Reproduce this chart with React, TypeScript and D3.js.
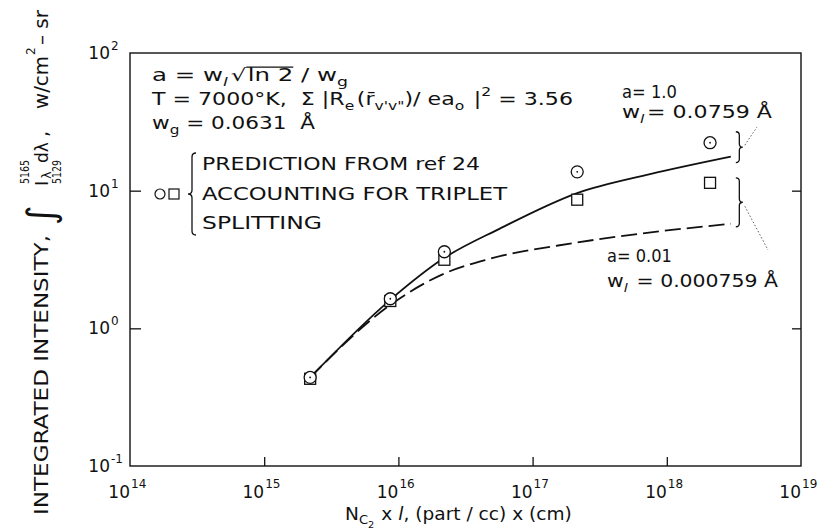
import * as d3 from 'd3'
import { useEffect, useRef } from 'react'

const W = 818
const H = 532

// decade exponents for the log axes
const xExps = [14, 15, 16, 17, 18, 19]
const yExps = [-1, 0, 1, 2]

// measured points (prediction from ref 24)
const nValues = [2.2e15, 8.7e15, 2.2e16, 2.15e17, 2.1e18]
const circleValues = [0.44, 1.64, 3.6, 13.7, 22.3]
const squareValues = [0.43, 1.58, 3.15, 8.6, 11.4]

// a = 1.0 curve (solid)
const solidN = [2.2e15, 8.7e15, 2.2e16, 5.7e16, 2.15e17, 7.5e17, 3.0e18]
const solidI = [0.44, 1.61, 3.25, 5.3, 9.6, 13.2, 17.7]
// a = 0.01 curve (dashed)
const dashN = [2.2e15, 8.7e15, 2.2e16, 4.8e16, 2.15e17, 3.0e18]
const dashI = [0.44, 1.48, 2.5, 3.2, 4.2, 5.75]

// brace extents (intensity)
const upperBrace = [16.0, 26.8]
const lowerBrace = [5.47, 12.4]

type Part = { t: string; size?: number; dy?: number; italic?: boolean; over?: boolean; gap?: number }

const FONT = 'DejaVu Sans'

// lays text runs side by side, then squeezes/stretches the group to a given width
function runs(parent: any, x: number, y: number, parts: Part[], base: number, width?: number) {
	const g = parent.append('g')
	let cx = 0
	parts.forEach((p) => {
		cx += p.gap ?? 0
		const size = p.size ?? base
		const dy = p.dy ?? 0
		const t = g
			.append('text')
			.attr('x', cx)
			.attr('y', dy)
			.attr('font-size', size)
			.attr('font-style', p.italic ? 'italic' : null)
			.style('white-space', 'pre')
			.text(p.t)
		const len = (t.node() as SVGTextElement).getComputedTextLength()
		if (p.over) {
			g.append('line')
				.attr('x1', cx - 1)
				.attr('x2', cx + len)
				.attr('y1', dy - size * 0.82)
				.attr('y2', dy - size * 0.82)
				.attr('stroke', '#111')
				.attr('stroke-width', 1.2)
		}
		cx += len
	})
	const k = width ? width / cx : 1
	g.attr('transform', `translate(${x},${y}) scale(${k},1)`)
	return g
}

function put(parent: any, u: number, dy: number, s: string, size: number, len?: number) {
	const t = parent.append('text').attr('x', u).attr('y', dy).attr('font-size', size).text(s)
	if (len) t.attr('textLength', len).attr('lengthAdjust', 'spacingAndGlyphs')
	return t
}

function brace(x: number, y1: number, y2: number, d: number, w: number) {
	const ym = (y1 + y2) / 2
	return `M${x},${y1} Q${x + d * w},${y1} ${x + d * w},${y1 + w} L${x + d * w},${ym - w} Q${x + d * w},${ym} ${x + 2 * d * w},${ym} Q${x + d * w},${ym} ${x + d * w},${ym + w} L${x + d * w},${y2 - w} Q${x + d * w},${y2} ${x},${y2}`
}

export default function App() {
	const svgRef = useRef<SVGSVGElement>(null)

	useEffect(() => {
		const svg = d3.select(svgRef.current)
		svg.selectAll('*').remove()
		const root = svg.append('g').attr('font-family', FONT).attr('fill', '#111')

		const x = d3.scaleLog().domain([1e14, 1e19]).range([130, 801])
		const y = d3.scaleLog().domain([0.1, 100]).range([466, 53])

		// frame
		root.append('rect')
			.attr('x', x(1e14))
			.attr('y', y(100))
			.attr('width', x(1e19) - x(1e14))
			.attr('height', y(0.1) - y(100))
			.attr('fill', 'none')
			.attr('stroke', '#111')
			.attr('stroke-width', 1.4)

		// inward ticks
		const inner = xExps.slice(1, -1).map((e) => Math.pow(10, e))
		const innerY = yExps.slice(1, -1).map((e) => Math.pow(10, e))
		const axB = root.append('g').attr('transform', `translate(0,${y(0.1)})`)
			.call(d3.axisBottom(x).tickValues(inner).tickSize(-9).tickFormat(() => ''))
		const axL = root.append('g').attr('transform', `translate(${x(1e14)},0)`)
			.call(d3.axisLeft(y).tickValues(innerY).tickSize(-11).tickFormat(() => ''))
		const axR = root.append('g').attr('transform', `translate(${x(1e19)},0)`)
			.call(d3.axisRight(y).tickValues(innerY).tickSize(-9).tickFormat(() => ''))
		;[axB, axL, axR].forEach((a) => {
			a.select('.domain').remove()
			a.selectAll('line').attr('stroke', '#111').attr('stroke-width', 1.3)
		})

		// tick labels
		xExps.forEach((e) => {
			const px = x(Math.pow(10, e))
			root.append('text').attr('x', px).attr('y', 498).attr('text-anchor', 'end')
				.attr('font-size', 17).text('10')
			root.append('text').attr('x', px + 1).attr('y', 488).attr('font-size', 12).text(String(e))
		})
		yExps.forEach((e) => {
			const py = y(Math.pow(10, e))
			root.append('text').attr('x', 110).attr('y', py + 6).attr('text-anchor', 'end')
				.attr('font-size', 17).text('10')
			root.append('text').attr('x', 111).attr('y', py - 3).attr('font-size', 12).text(String(e))
		})

		// curves
		const line = d3.line<[number, number]>()
			.x((d) => x(d[0]))
			.y((d) => y(d[1]))
			.curve(d3.curveMonotoneX)
		root.append('path')
			.attr('d', line(solidN.map((n, i) => [n, solidI[i]]) as [number, number][]))
			.attr('fill', 'none').attr('stroke', '#111').attr('stroke-width', 1.8)
		root.append('path')
			.attr('d', line(dashN.map((n, i) => [n, dashI[i]]) as [number, number][]))
			.attr('fill', 'none').attr('stroke', '#111').attr('stroke-width', 1.8)
			.attr('stroke-dasharray', '16 6')

		// markers
		nValues.forEach((n, i) => {
			root.append('rect')
				.attr('x', x(n) - 5.5).attr('y', y(squareValues[i]) - 5.5)
				.attr('width', 11).attr('height', 11)
				.attr('fill', 'white').attr('stroke', '#111').attr('stroke-width', 1.3)
		})
		nValues.forEach((n, i) => {
			root.append('circle')
				.attr('cx', x(n)).attr('cy', y(circleValues[i])).attr('r', 6)
				.attr('fill', 'white').attr('stroke', '#111').attr('stroke-width', 1.3)
			root.append('circle')
				.attr('cx', x(n)).attr('cy', y(circleValues[i])).attr('r', 0.9).attr('fill', '#111')
		})

		// right braces + leaders
		const bx = x(3.0e18) + 5
		root.append('path').attr('d', brace(bx, y(upperBrace[1]), y(upperBrace[0]), 1, 3.5))
			.attr('fill', 'none').attr('stroke', '#111').attr('stroke-width', 1.3)
		root.append('path').attr('d', brace(bx, y(lowerBrace[1]), y(lowerBrace[0]), 1, 3.5))
			.attr('fill', 'none').attr('stroke', '#111').attr('stroke-width', 1.3)
		root.append('line').attr('x1', bx + 9).attr('y1', (y(upperBrace[0]) + y(upperBrace[1])) / 2 - 2)
			.attr('x2', 757).attr('y2', 127)
			.attr('stroke', '#333').attr('stroke-width', 0.8).attr('stroke-dasharray', '1.5 2')
		root.append('line').attr('x1', bx + 9).attr('y1', (y(lowerBrace[0]) + y(lowerBrace[1])) / 2 + 4)
			.attr('x2', 768).attr('y2', 250)
			.attr('stroke', '#333').attr('stroke-width', 0.8).attr('stroke-dasharray', '1.5 2')

		// curve labels
		runs(root, 622, 98, [{ t: 'a= 1.0' }], 17, 55)
		runs(root, 622, 118, [{ t: 'w' }, { t: 'l', size: 12, dy: 5, italic: true }, { t: '= 0.0759 Å', gap: 2 }], 17, 150)
		runs(root, 607, 262, [{ t: 'a= 0.01' }], 17, 65)
		runs(root, 607, 287, [{ t: 'w' }, { t: 'l', size: 12, dy: 5, italic: true }, { t: ' = 0.000759 Å', gap: 2 }], 17, 171)

		// top-left annotation
		runs(root, 152, 81, [
			{ t: 'a = w' },
			{ t: 'l', size: 12, dy: 5, italic: true },
			{ t: '√', gap: 2 },
			{ t: 'ln 2', over: true, gap: 1 },
			{ t: ' / w' },
			{ t: 'g', size: 12, dy: 5 },
		], 17, 196)
		runs(root, 152, 105, [
			{ t: 'T = 7000°K,  Σ |R' },
			{ t: 'e', size: 12, dy: 5 },
			{ t: '(r̄', gap: 2 },
			{ t: "v'v\"", size: 12, dy: 5 },
			{ t: ')/ ea' },
			{ t: 'o', size: 12, dy: 5 },
			{ t: ' |', gap: 2 },
			{ t: '2', size: 12, dy: -9 },
			{ t: ' = 3.56' },
		], 17, 421)
		runs(root, 152, 129, [
			{ t: 'w' },
			{ t: 'g', size: 12, dy: 5 },
			{ t: ' = 0.0631  Å' },
		], 17, 163)

		// legend
		root.append('circle').attr('cx', 160).attr('cy', 194).attr('r', 5)
			.attr('fill', 'none').attr('stroke', '#111').attr('stroke-width', 1.2)
		root.append('rect').attr('x', 169).attr('y', 189).attr('width', 10).attr('height', 10)
			.attr('fill', 'none').attr('stroke', '#111').attr('stroke-width', 1.2)
		root.append('path').attr('d', brace(196, 153, 235, -1, 4))
			.attr('fill', 'none').attr('stroke', '#111').attr('stroke-width', 1.3)
		const legendLines = ['PREDICTION FROM ref 24', 'ACCOUNTING FOR TRIPLET', 'SPLITTING']
		const legendWidths = [278, 305, 120]
		legendLines.forEach((s, i) => {
			root.append('text').attr('x', 202).attr('y', 170 + i * 29.5)
				.attr('font-size', 17).attr('textLength', legendWidths[i]).attr('lengthAdjust', 'spacingAndGlyphs')
				.text(s)
		})

		// x axis title
		runs(root, 345, 520, [
			{ t: 'N' },
			{ t: 'C', size: 12, dy: 4 },
			{ t: '2', size: 9, dy: 8 },
			{ t: ' x ', gap: 1 },
			{ t: 'l', italic: true },
			{ t: ', (part / cc) x (cm)' },
		], 17, 227)

		// y axis title (rotated, u runs up the page)
		const yt = root.append('g').attr('transform', 'translate(48,515) rotate(-90)')
		put(yt, 0, 0, 'INTEGRATED  INTENSITY,', 19, 280)
		put(yt, 290, 6, '∫', 38)
		put(yt, 331, -19, '5165', 12, 24)
		put(yt, 331, 13, '5129', 12, 24)
		put(yt, 329, 0, 'I', 18)
		put(yt, 336, 3, 'λ', 13)
		put(yt, 352, 0, 'dλ', 18, 21)
		put(yt, 378, 0, ',', 19)
		put(yt, 406, 0, 'w/cm', 19, 53)
		put(yt, 460, -13, '2', 12)
		put(yt, 470, 0, '– sr', 19, 35)
	}, [])

	return (
		<svg
			ref={svgRef}
			width={W}
			height={H}
			style={{ position: 'absolute', left: 0, top: 0, background: 'white' }}
		/>
	)
}
